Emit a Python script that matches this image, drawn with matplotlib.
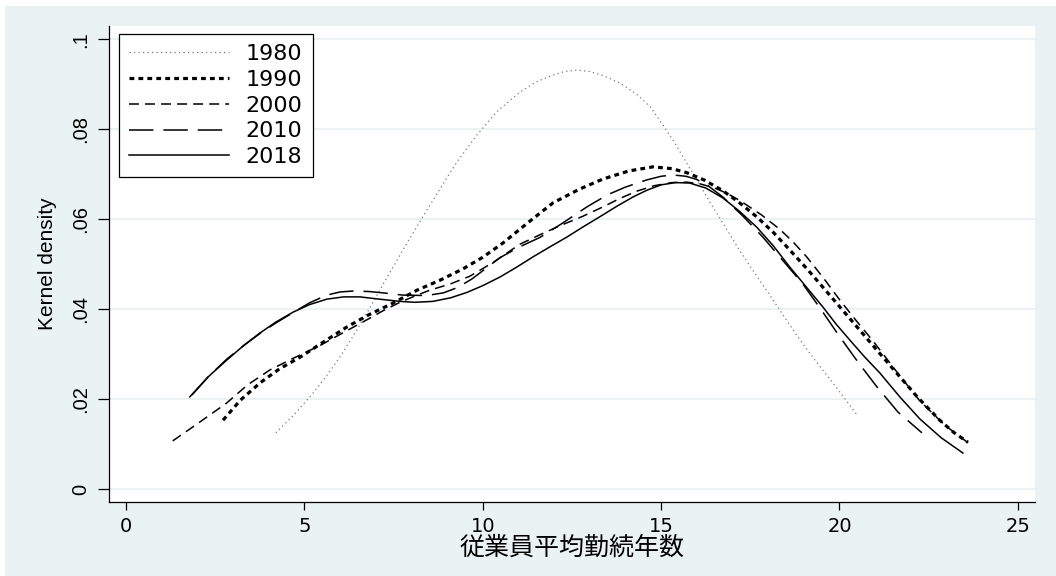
import matplotlib
matplotlib.use("Agg")
import matplotlib.pyplot as plt
from matplotlib.patches import Rectangle

# ---- data ----
x1980 = [4.2, 4.7, 5.24, 5.6, 6.0, 6.4, 6.75, 7.2, 7.76, 8.32, 8.88, 9.27, 9.84, 10.4, 11.04, 11.5,
         11.97, 12.3, 12.64, 13.0, 13.37, 13.85, 14.32, 14.7, 15.05, 15.4, 15.72, 16.0, 16.28, 16.56,
         16.9, 17.21, 17.7, 18.14, 18.5, 18.8, 19.25, 19.9, 20.49]
y1980 = [0.0126, 0.0165, 0.0214, 0.0250, 0.0295, 0.0345, 0.0392, 0.0455, 0.0532, 0.0606, 0.0678,
         0.0727, 0.0788, 0.0840, 0.0883, 0.0906, 0.0921, 0.0929, 0.0932, 0.0929, 0.0920, 0.0903,
         0.0878, 0.0850, 0.0810, 0.0768, 0.0725, 0.0688, 0.0650, 0.0614, 0.0570, 0.0530, 0.0472,
         0.0421, 0.0378, 0.0343, 0.0294, 0.0228, 0.0166]

x1990 = [2.72, 3.2, 3.76, 4.3, 4.88, 5.5, 6.19, 6.8, 7.48, 8.16, 8.8, 9.44, 10.0, 10.57, 11.3,
         11.97, 12.7, 13.37, 14.1, 14.77, 15.3, 15.72, 16.2, 16.73, 17.2, 17.68, 18.15, 18.61,
         19.07, 19.53, 20.05, 20.57, 21.1, 21.6, 22.2, 22.81, 23.2, 23.6]
y1990 = [0.0154, 0.0198, 0.0237, 0.0268, 0.0294, 0.0326, 0.0361, 0.0388, 0.0414, 0.0443, 0.0465,
         0.0490, 0.0516, 0.0548, 0.0595, 0.0637, 0.0667, 0.0690, 0.0708, 0.0717, 0.0713, 0.0704,
         0.0688, 0.0664, 0.0637, 0.0606, 0.0571, 0.0532, 0.0492, 0.0450, 0.0402, 0.0354, 0.0305,
         0.0259, 0.0204, 0.0154, 0.0127, 0.0105]

x2000 = [1.31, 2.0, 2.82, 3.4, 4.04, 4.7, 5.44, 6.1, 6.75, 7.2, 7.68, 8.1, 8.52, 9.1, 9.64, 10.3,
         11.04, 11.6, 12.16, 12.8, 13.37, 13.85, 14.32, 14.8, 15.3, 15.72, 16.1, 16.5, 16.85, 17.21,
         17.8, 18.33, 18.7, 19.08, 19.55, 20.01, 20.47, 20.94, 21.6, 22.25, 22.95, 23.65]
y2000 = [0.0108, 0.0146, 0.0192, 0.0232, 0.0266, 0.0292, 0.0320, 0.0349, 0.0377, 0.0397, 0.0416,
         0.0430, 0.0443, 0.0457, 0.0474, 0.0505, 0.0545, 0.0566, 0.0586, 0.0607, 0.0628, 0.0647,
         0.0663, 0.0675, 0.0682, 0.0683, 0.0679, 0.0670, 0.0658, 0.0642, 0.0611, 0.0578, 0.0550,
         0.0517, 0.0470, 0.0421, 0.0375, 0.0330, 0.0262, 0.0197, 0.0143, 0.0101]

x2010 = [1.85, 2.3, 2.83, 3.3, 3.76, 4.2, 4.68, 5.15, 5.63, 6.0, 6.36, 6.8, 7.2, 7.76, 8.43, 8.9,
         9.3, 9.7, 10.1, 10.48, 11.0, 11.6, 12.2, 12.92, 13.5, 14.0, 14.6, 15.0, 15.33, 15.7, 16.0,
         16.35, 16.73, 17.3, 17.85, 18.4, 18.97, 19.5, 20.01, 20.52, 21.05, 21.64, 22.31]
y2010 = [0.0210, 0.0250, 0.0290, 0.0320, 0.0347, 0.0370, 0.0393, 0.0415, 0.0432, 0.0439, 0.0441,
         0.0440, 0.0437, 0.0432, 0.0431, 0.0437, 0.0449, 0.0468, 0.0492, 0.0515, 0.0538, 0.0560,
         0.0590, 0.0628, 0.0655, 0.0672, 0.0688, 0.0696, 0.0699, 0.0696, 0.0689, 0.0673, 0.0650,
         0.0607, 0.0561, 0.0510, 0.0457, 0.0398, 0.0339, 0.0283, 0.0228, 0.0172, 0.0126]

x2018 = [1.79, 2.3, 2.83, 3.3, 3.76, 4.2, 4.68, 5.15, 5.63, 6.1, 6.56, 7.1, 7.68, 8.1, 8.6, 9.1,
         9.56, 10.0, 10.48, 10.95, 11.41, 11.9, 12.36, 12.8, 13.28, 13.75, 14.21, 14.6, 15.0, 15.4,
         15.8, 16.25, 16.73, 17.2, 17.68, 18.15, 18.61, 19.07, 19.53, 19.9, 20.29, 20.7, 21.13,
         21.7, 22.25, 22.85, 23.46]
y2018 = [0.0206, 0.0250, 0.0288, 0.0320, 0.0348, 0.0372, 0.0394, 0.0411, 0.0423, 0.0428, 0.0428,
         0.0423, 0.0418, 0.0416, 0.0418, 0.0426, 0.0438, 0.0453, 0.0472, 0.0494, 0.0517, 0.0540,
         0.0561, 0.0583, 0.0606, 0.0629, 0.0650, 0.0665, 0.0677, 0.0682, 0.0681, 0.0670, 0.0648,
         0.0618, 0.0583, 0.0541, 0.0494, 0.0450, 0.0406, 0.0368, 0.0332, 0.0295, 0.0259, 0.0205,
         0.0157, 0.0115, 0.0081]

xticks = [0, 5, 10, 15, 20, 25]
yticks = [0, 0.02, 0.04, 0.06, 0.08, 0.1]
ytick_labels = ["0", ".02", ".04", ".06", ".08", ".1"]
series_labels = ["1980", "1990", "2000", "2010", "2018"]
xlabel = "従業員平均勤続年数"
ylabel = "Kernel density"

# ---- figure ----
plt.rcParams['font.family'] = ['DejaVu Sans']
BG = '#EAF2F3'
W, H = 1056, 576
fig = plt.figure(figsize=(W / 100, H / 100), dpi=100, facecolor=BG)
fig.patches.append(Rectangle((0, 1 - 6 / H), 1, 6 / H, transform=fig.transFigure,
                             facecolor='white', edgecolor='none', zorder=0))
fig.patches.append(Rectangle((0, 0), 5 / W, 1, transform=fig.transFigure,
                             facecolor='white', edgecolor='none', zorder=0))

ax = fig.add_axes([109 / W, 74 / H, 926 / W, 476 / H])
ax.set_facecolor('white')

ax.plot(x1980, y1980, color='#7a7a7a', lw=0.9, linestyle=(0, (1, 2.6)), label=series_labels[0])
ax.plot(x1990, y1990, color='black', lw=2.3, linestyle=(0, (1.5, 1.3)), label=series_labels[1])
ax.plot(x2000, y2000, color='black', lw=1.1, linestyle=(0, (6.5, 4.0)), label=series_labels[2])
ax.plot(x2010, y2010, color='black', lw=1.1, linestyle=(0, (16, 6.5)), label=series_labels[3])
ax.plot(x2018, y2018, color='black', lw=1.1, linestyle='-', label=series_labels[4])

ax.set_xlim(-0.476, 25.48)
ax.set_ylim(-0.00278, 0.103)
ax.set_xticks(xticks)
ax.set_xticklabels([str(t) for t in xticks])
ax.set_yticks(yticks)
ax.set_yticklabels(ytick_labels, rotation=90, va='center', family='Liberation Sans', fontsize=14.5)

ax.grid(axis='y', color=BG, lw=1.5, zorder=0)
ax.set_axisbelow(True)
for s in ['top', 'right']:
    ax.spines[s].set_visible(False)
for s in ['left', 'bottom']:
    ax.spines[s].set_linewidth(0.9)
    ax.spines[s].set_color('black')

ax.tick_params(axis='x', length=6, width=0.9, pad=5, labelsize=14, direction='out')
ax.tick_params(axis='y', length=8, width=0.9, pad=5.5, direction='out')

ax.set_ylabel(ylabel, family='Liberation Sans', fontsize=15, labelpad=10)
ax.set_xlabel(xlabel, family=['Noto Sans CJK JP', 'DejaVu Sans'], fontsize=18, labelpad=-1)

leg = ax.legend(loc='upper left', bbox_to_anchor=(119 / W, 1 - 34 / H),
                bbox_transform=fig.transFigure, borderaxespad=0, fancybox=False,
                edgecolor='black', framealpha=1, fontsize=16, handlelength=4.5,
                handletextpad=0.75, labelspacing=0.26, borderpad=0.45)
leg.get_frame().set_linewidth(0.9)

fig.savefig('out.png', dpi=100, facecolor=fig.get_facecolor())
